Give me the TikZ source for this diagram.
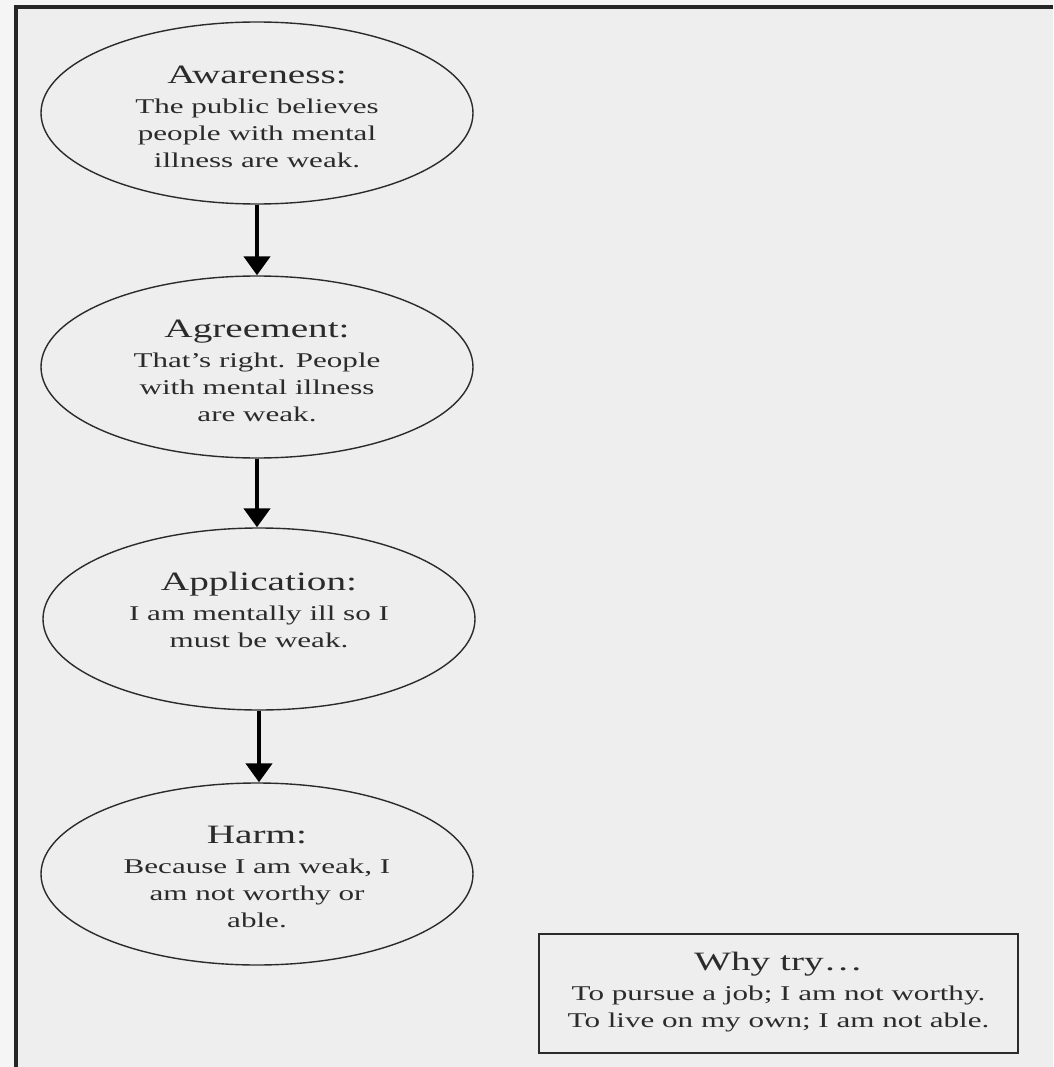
\documentclass[tikz,border=0pt]{standalone}
\usepackage{fontspec}
\setmainfont{Liberation Serif}[FakeStretch=1.48]
\usetikzlibrary{shapes.geometric,arrows.meta}
\definecolor{bgout}{HTML}{F5F5F5}
\definecolor{bgin}{HTML}{EDEEED}
\definecolor{ink}{HTML}{2B2B2B}
\newcommand\titlef{\fontsize{26.5}{30}\selectfont}
\begin{document}
\begin{tikzpicture}[x=1pt,y=-1pt,
  oval/.style={draw=ink, line width=1.4pt, ellipse, minimum width=432pt, minimum height=182pt, inner sep=0pt},
  txt/.style={align=center, text=ink, font=\fontsize{21}{27}\selectfont, inner sep=0pt},
  flow/.style={draw=black, line width=4.5pt, -{Triangle[width=26pt,length=19pt]}},
  whybox/.style={draw=ink, line width=2.2pt, minimum width=479pt, minimum height=119pt, inner sep=0pt}]
\useasboundingbox (0,0) rectangle (1053,1067);
\fill[bgout] (0,0) rectangle (1053,1067);
\fill[bgin] (16,7) rectangle (1053,1067);
\draw[line width=3.5pt, draw=black!85] (1053,7) -- (16,7) -- (16,1067);

\node[oval] (aw) at (257,113) {};
\node[txt] (awt) at (257,117) {{\titlef Awareness:}\\[3pt] The public believes\\ people with mental\\ illness are weak.};

\node[oval] (ag) at (257,367) {};
\node[txt] (agt) at (257,371) {{\titlef Agreement:}\\[3pt] That’s right. People\\ with mental illness\\ are weak.};

\node[oval] (ap) at (259,619) {};
\node[txt] (apt) at (259,610) {{\titlef Application:}\\[3pt] I am mentally ill so I\\ must be weak.};

\node[oval] (ha) at (257,874) {};
\node[txt] (hat) at (257,877) {{\titlef Harm:}\\[3pt] Because I am weak, I\\ am not worthy or\\ able.};

\draw[flow] (aw.south) -- (ag.north);
\draw[flow] (ag.south) -- (ag.south |- ap.north);
\draw[flow] (ap.south) -- (ap.south |- ha.north);

\node[whybox] (why) at (778.5,993.5) {};
\node[txt] (whyt) at (778.5,992) {{\titlef Why try\ldots}\\[3pt] To pursue a job; I am not worthy.\\ To live on my own; I am not able.};
\end{tikzpicture}
\end{document}
